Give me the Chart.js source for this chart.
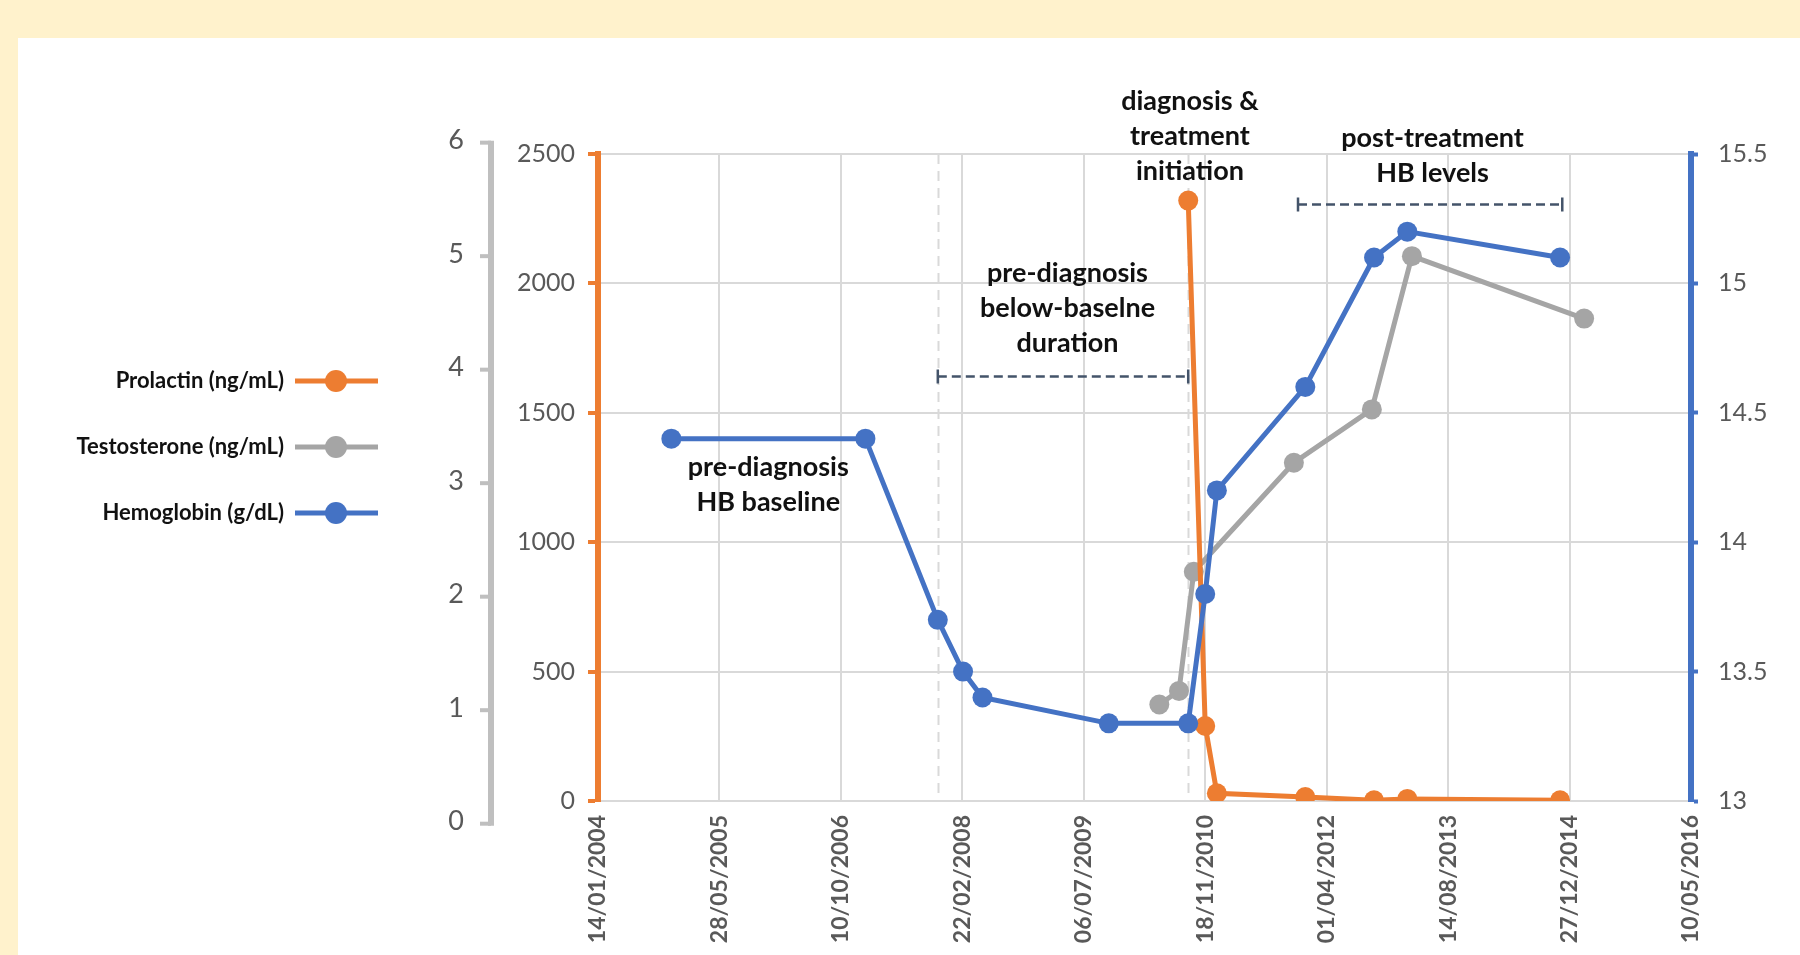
<!DOCTYPE html>
<html>
<head>
<meta charset="utf-8">
<script src="https://cdn.jsdelivr.net/npm/chart.js@4.4.1/dist/chart.umd.min.js"></script>
<style>
  html, body { margin: 0; padding: 0; width: 1800px; height: 955px; overflow: hidden; background: #FFF2CC; }
  #panel { position: absolute; left: 18px; top: 38px; right: 0; bottom: 0; background: #ffffff; }
  #wrap { position: absolute; left: 0; top: 0; width: 1800px; height: 955px; }
</style>
</head>
<body>
<div id="panel"></div>
<div id="wrap"><canvas id="c" width="1800" height="955"></canvas></div>
<script>
// ---- data ----
const xTickLabels = ['14/01/2004', '28/05/2005', '10/10/2006', '22/02/2008', '06/07/2009',
                     '18/11/2010', '01/04/2012', '14/08/2013', '27/12/2014', '10/05/2016'];

const prolactinTicks = [0, 500, 1000, 1500, 2000, 2500];
const testosteroneTicks = [0, 1, 2, 3, 4, 5, 6];
const hemoglobinTicks = [13, 13.5, 14, 14.5, 15, 15.5];

const prolactinDates  = ['09/09/2010', '18/11/2010', '05/01/2011', '04/01/2012', '13/10/2012', '27/02/2013', '18/11/2014'];
const prolactinValues = [2320, 290, 30, 15, 3, 8, 3];

const testosteroneDates  = ['13/05/2010', '02/08/2010', '02/10/2010', '18/11/2011', '04/10/2012', '18/03/2013', '25/02/2015'];
const testosteroneValues = [1.05, 1.17, 2.22, 3.18, 3.65, 5.0, 4.45];

const hemoglobinDates  = ['11/11/2004', '19/01/2007', '13/11/2007', '25/02/2008', '15/05/2008', '17/10/2009',
                          '09/09/2010', '18/11/2010', '05/01/2011', '04/01/2012', '13/10/2012', '27/02/2013', '18/11/2014'];
const hemoglobinValues = [14.4, 14.4, 13.7, 13.5, 13.4, 13.3, 13.3, 13.8, 14.2, 14.6, 15.1, 15.2, 15.1];

// Period markers and labels (x as dates, y in prolactin units)
const guideDates = ['13/11/2007', '09/09/2010'];
const periods = [
  { from: '13/11/2007', to: '09/09/2010', level: 1640 },
  { from: '05/12/2011', to: '27/11/2014', level: 2305 }
];
const notes = [
  { at: '16/09/2010', level: 2705, lines: ['diagnosis &', 'treatment', 'initiation'] },
  { at: '11/06/2013', level: 2562, lines: ['post-treatment', 'HB levels'] },
  { at: '30/04/2009', level: 2040, lines: ['pre-diagnosis', 'below-baselne', 'duration'] },
  { at: '15/12/2005', level: 1290, lines: ['pre-diagnosis', 'HB baseline'] }
];

// ---- helpers ----
// dd/mm/yyyy -> spreadsheet-style day serial
function serial(s) {
  const [d, m, y] = s.split('/').map(Number);
  return Date.UTC(y, m - 1, d) / 86400000 + 25569;
}
function points(dates, values) {
  return dates.map((d, i) => ({ x: serial(d), y: values[i] }));
}

const ORANGE = '#ED7D31', GREY = '#A5A5A5', BLUE = '#4472C4';
const GRID = '#D9D9D9', TICK_TEXT = '#595959';
const FONT = 'Lato';

// first entry is painted on top
const series = [
  { label: 'Hemoglobin (g/dL)', color: BLUE, axis: 'yHb', data: points(hemoglobinDates, hemoglobinValues) },
  { label: 'Prolactin (ng/mL)', color: ORANGE, axis: 'y', data: points(prolactinDates, prolactinValues) },
  { label: 'Testosterone (ng/mL)', color: GREY, axis: 'yT', data: points(testosteroneDates, testosteroneValues) }
];
const legendOrder = ['Prolactin (ng/mL)', 'Testosterone (ng/mL)', 'Hemoglobin (g/dL)'];

// ---- drawing extras: guides, period brackets, notes, legend, testosterone axis ----
const extras = {
  id: 'extras',
  beforeDatasetsDraw(chart) {
    const { ctx, chartArea, scales } = chart;
    const xs = scales.x, ys = scales.y;
    ctx.save();
    ctx.strokeStyle = GRID;
    ctx.lineWidth = 2;
    ctx.setLineDash([10, 7]);
    guideDates.forEach(d => {
      const px = Math.round(xs.getPixelForValue(serial(d))) + 0.5;
      ctx.beginPath(); ctx.moveTo(px, chartArea.top); ctx.lineTo(px, chartArea.bottom); ctx.stroke();
    });
    ctx.strokeStyle = '#44546A';
    ctx.lineWidth = 2.5;
    periods.forEach(p => {
      const x1 = xs.getPixelForValue(serial(p.from));
      const x2 = xs.getPixelForValue(serial(p.to));
      const py = ys.getPixelForValue(p.level);
      ctx.setLineDash([9, 5]);
      ctx.beginPath(); ctx.moveTo(x1, py); ctx.lineTo(x2, py); ctx.stroke();
      ctx.setLineDash([]);
      ctx.beginPath();
      ctx.moveTo(x1, py - 7); ctx.lineTo(x1, py + 7);
      ctx.moveTo(x2, py - 7); ctx.lineTo(x2, py + 7);
      ctx.stroke();
    });
    ctx.restore();
  },
  afterDraw(chart) {
    const { ctx, scales } = chart;
    const xs = scales.x, ys = scales.y, yt = scales.yT;
    ctx.save();

    // notes
    ctx.fillStyle = '#111111';
    ctx.font = 'bold 27px ' + FONT;
    ctx.textAlign = 'center';
    ctx.textBaseline = 'middle';
    notes.forEach(n => {
      const px = xs.getPixelForValue(serial(n.at));
      const py = ys.getPixelForValue(n.level);
      n.lines.forEach((t, i) => ctx.fillText(t, px, py + i * 35));
    });

    // testosterone axis (outer left)
    const axX = 491;
    const top = yt.getPixelForValue(testosteroneTicks[testosteroneTicks.length - 1]);
    const bot = yt.getPixelForValue(testosteroneTicks[0]);
    ctx.strokeStyle = '#BFBFBF';
    ctx.lineWidth = 6;
    ctx.beginPath(); ctx.moveTo(axX, top - 2); ctx.lineTo(axX, bot + 2); ctx.stroke();
    ctx.lineWidth = 4;
    ctx.fillStyle = TICK_TEXT;
    ctx.font = '27px ' + FONT;
    ctx.textAlign = 'center';
    testosteroneTicks.forEach(v => {
      const py = yt.getPixelForValue(v);
      ctx.beginPath(); ctx.moveTo(axX - 11, py); ctx.lineTo(axX, py); ctx.stroke();
      ctx.fillText(String(v), 456, py - 2);
    });

    // legend
    ctx.font = 'bold 22px ' + FONT;
    ctx.textAlign = 'right';
    legendOrder.forEach((name, i) => {
      const s = series.find(d => d.label === name);
      const ly = 381 + i * 66;
      ctx.fillStyle = '#111111';
      ctx.fillText(name, 284, ly);
      ctx.strokeStyle = s.color;
      ctx.lineWidth = 5;
      ctx.beginPath(); ctx.moveTo(295, ly); ctx.lineTo(378, ly); ctx.stroke();
      ctx.fillStyle = s.color;
      ctx.beginPath(); ctx.arc(336, ly, 11, 0, Math.PI * 2); ctx.fill();
    });
    ctx.restore();
  }
};

const xSerials = xTickLabels.map(serial);

new Chart(document.getElementById('c'), {
  type: 'line',
  data: {
    datasets: series.map(s => ({
      label: s.label,
      data: s.data,
      yAxisID: s.axis,
      borderColor: s.color,
      backgroundColor: s.color,
      borderWidth: 5,
      pointRadius: 10,
      pointBorderWidth: 0,
      pointBackgroundColor: s.color,
      tension: 0,
      fill: false
    }))
  },
  options: {
    responsive: false,
    animation: false,
    devicePixelRatio: 1,
    layout: { padding: { left: 518, top: 154, right: 0, bottom: 0 } },
    plugins: { legend: { display: false }, tooltip: { enabled: false } },
    scales: {
      x: {
        type: 'linear',
        position: 'bottom',
        min: xSerials[0],
        max: xSerials[xSerials.length - 1],
        afterBuildTicks: sc => { sc.ticks = xSerials.map(v => ({ value: v })); },
        afterFit: sc => { sc.height = 154; },
        border: { display: false },
        grid: { color: GRID, lineWidth: 2, drawTicks: false },
        ticks: {
          autoSkip: false, minRotation: 90, maxRotation: 90, padding: 14,
          color: TICK_TEXT, font: { family: FONT, size: 23, weight: 'bold' },
          callback: (v, i) => xTickLabels[i]
        }
      },
      y: {
        type: 'linear',
        position: 'left',
        min: prolactinTicks[0],
        max: prolactinTicks[prolactinTicks.length - 1],
        afterBuildTicks: sc => { sc.ticks = prolactinTicks.map(v => ({ value: v })); },
        afterFit: sc => { sc.width = 80; },
        border: { color: ORANGE, width: 6 },
        grid: { color: GRID, lineWidth: 2, tickColor: ORANGE, tickLength: 10, tickWidth: 4 },
        ticks: { color: TICK_TEXT, padding: 13, font: { family: FONT, size: 25 }, callback: v => String(v) }
      },
      yT: {
        type: 'linear',
        display: false,
        min: 0.2,
        max: 5.9
      },
      yHb: {
        type: 'linear',
        position: 'right',
        min: hemoglobinTicks[0],
        max: hemoglobinTicks[hemoglobinTicks.length - 1],
        afterBuildTicks: sc => { sc.ticks = hemoglobinTicks.map(v => ({ value: v })); },
        afterFit: sc => { sc.width = 109; },
        border: { color: BLUE, width: 6 },
        grid: { drawOnChartArea: false, tickColor: BLUE, tickLength: 7, tickWidth: 4 },
        ticks: { color: TICK_TEXT, padding: 20, font: { family: FONT, size: 25 }, callback: v => String(v) }
      }
    }
  },
  plugins: [extras]
});
</script>
</body>
</html>
